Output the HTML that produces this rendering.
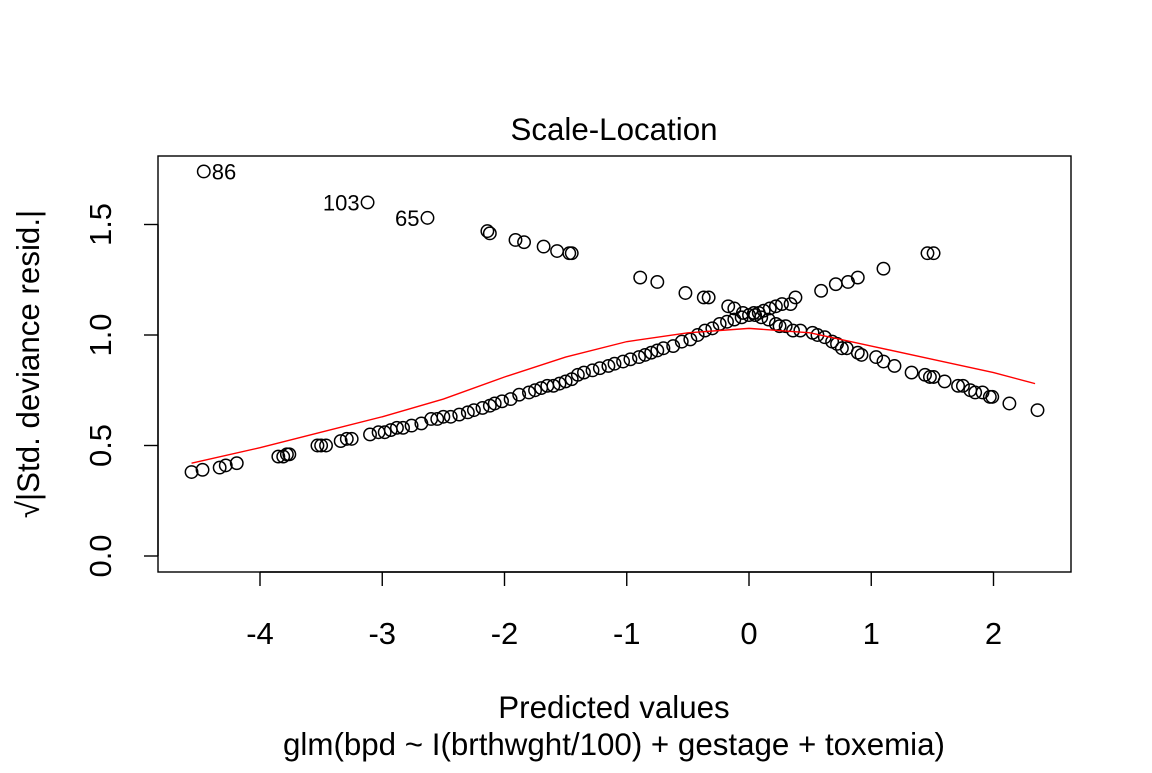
<!DOCTYPE html>
<html><head><meta charset="utf-8"><style>
body{margin:0;background:#fff}
svg text{font-family:"Liberation Sans",Arial,sans-serif;fill:#000}
</style></head><body>
<svg id="chart" width="1152" height="768" xmlns="http://www.w3.org/2000/svg">
<rect width="1152" height="768" fill="#fff"/>
<text x="614" y="140" font-size="31.3" text-anchor="middle">Scale-Location</text>
<rect x="158" y="156" width="913" height="416" fill="none" stroke="#000" stroke-width="1.4"/>
<g id="xaxis"></g>
<g id="yaxis"></g>
<g id="pts"></g>
<g id="labels"></g>
<text x="614" y="718" font-size="31.3" text-anchor="middle">Predicted values</text>
<text x="614" y="755" font-size="31.3" text-anchor="middle">glm(bpd ~ I(brthwght/100) + gestage + toxemia)</text>
<text transform="translate(39,364) rotate(-90)" font-size="31.3" text-anchor="middle">√|Std. deviance resid.|</text>
</svg>
<script>
const xTicks=[-4,-3,-2,-1,0,1,2];
const yTicks=[0.0,0.5,1.0,1.5];
const yTickLabels=["0.0","0.5","1.0","1.5"];
const ptX=[-4.46,-3.12,-2.63,-2.14,-2.12,-1.91,-1.84,-1.68,-1.57,-1.47,-1.45,-0.89,-0.75,-0.52,-0.37,-0.33,-0.17,-0.12,
-0.05,0.04,0.08,0.12,0.17,0.22,0.27,0.34,0.38,0.59,0.71,0.81,0.89,1.10,1.46,1.51,
-4.56,-4.47,-4.33,-4.28,-4.19,-3.85,-3.81,-3.78,-3.76,-3.53,-3.50,-3.46,-3.34,-3.29,-3.25,
-3.10,-3.03,-2.98,-2.93,-2.88,-2.83,-2.76,-2.68,-2.60,-2.55,-2.50,-2.44,-2.37,-2.30,-2.25,-2.18,-2.12,-2.08,-2.02,-1.95,-1.88,-1.80,-1.75,-1.70,-1.65,-1.60,-1.55,-1.50,-1.45,-1.40,-1.35,-1.28,-1.22,-1.15,-1.10,-1.03,-0.97,-0.90,-0.85,-0.80,-0.75,-0.70,-0.62,-0.55,-0.48,-0.42,-0.36,-0.30,-0.24,-0.18,-0.12,-0.06,0.00,0.05,0.10,0.16,0.22,
0.25,0.30,0.36,0.42,0.52,0.56,0.62,0.68,0.72,0.76,0.80,0.89,0.92,1.04,1.10,1.19,1.33,1.44,1.48,1.51,1.60,1.71,1.75,1.81,1.85,1.91,1.97,1.99,2.13,2.36];
const ptY=[1.74,1.60,1.53,1.47,1.46,1.43,1.42,1.40,1.38,1.37,1.37,1.26,1.24,1.19,1.17,1.17,1.13,1.12,
1.10,1.10,1.10,1.11,1.12,1.13,1.14,1.14,1.17,1.20,1.23,1.24,1.26,1.30,1.37,1.37,
0.38,0.39,0.40,0.41,0.42,0.45,0.45,0.46,0.46,0.50,0.50,0.50,0.52,0.53,0.53,
0.55,0.56,0.56,0.57,0.58,0.58,0.59,0.60,0.62,0.62,0.63,0.63,0.64,0.65,0.66,0.67,0.68,0.69,0.70,0.71,0.73,0.74,0.75,0.76,0.77,0.77,0.78,0.79,0.80,0.82,0.83,0.84,0.85,0.86,0.87,0.88,0.89,0.90,0.91,0.92,0.93,0.94,0.95,0.97,0.98,1.00,1.02,1.03,1.05,1.06,1.07,1.08,1.09,1.09,1.08,1.07,1.05,
1.04,1.04,1.02,1.02,1.01,1.00,0.99,0.97,0.96,0.94,0.94,0.92,0.91,0.90,0.88,0.86,0.83,0.82,0.81,0.81,0.79,0.77,0.77,0.75,0.74,0.74,0.72,0.72,0.69,0.66];
const smoothX=[-4.56,-4,-3.5,-3,-2.5,-2,-1.5,-1,-0.5,0,0.5,1,1.5,2,2.34];
const smoothY=[0.42,0.49,0.56,0.63,0.71,0.81,0.90,0.97,1.01,1.03,1.01,0.95,0.89,0.83,0.78];
const idLabels=["86","103","65"];
const idX=[-4.46,-3.12,-2.63];
const idY=[1.74,1.60,1.53];
const idSide=[1,-1,-1];
const sx=v=>749+v*122.25, sy=v=>556-v*221;
const NS="http://www.w3.org/2000/svg";
function mk(t,a,p){const e=document.createElementNS(NS,t);for(const k in a)e.setAttribute(k,a[k]);p.appendChild(e);return e;}
const xa=document.getElementById('xaxis');
mk('line',{x1:sx(xTicks[0]),x2:sx(xTicks[xTicks.length-1]),y1:572,y2:572,stroke:'#000','stroke-width':1.4},xa);
xTicks.forEach(t=>{mk('line',{x1:sx(t),x2:sx(t),y1:572,y2:586,stroke:'#000','stroke-width':1.4},xa);
const tx=mk('text',{x:sx(t),y:644,'font-size':31,'text-anchor':'middle'},xa);


tx.textContent=t<0?'-'+Math.abs(t):String(t);});
const ya=document.getElementById('yaxis');
mk('line',{x1:158,x2:158,y1:sy(yTicks[0]),y2:sy(yTicks[yTicks.length-1]),stroke:'#000','stroke-width':1.4},ya);
yTicks.forEach((t,i)=>{mk('line',{x1:144,x2:158,y1:sy(t),y2:sy(t),stroke:'#000','stroke-width':1.4},ya);
const tx=mk('text',{transform:`translate(111,${sy(t)}) rotate(-90)`,'font-size':31,'text-anchor':'middle'},ya);


tx.textContent=yTickLabels[i];});
const pg=document.getElementById('pts');
ptX.forEach((x,i)=>{const c=mk('circle',{cx:sx(x),cy:sy(ptY[i]),r:6.2,fill:'none',stroke:'#000','stroke-width':1.5},pg);

});
const ln=mk('polyline',{points:smoothX.map((x,i)=>sx(x)+','+sy(smoothY[i])).join(' '),fill:'none',stroke:'#f00','stroke-width':1.4},document.getElementById('chart'));


const lg=document.getElementById('labels');
idLabels.forEach((l,i)=>{const t=mk('text',{x:sx(idX[i])+idSide[i]*8,y:sy(idY[i])+8,'font-size':22,'text-anchor':idSide[i]>0?'start':'end'},lg);


t.textContent=l;});
</script>
</body></html>
